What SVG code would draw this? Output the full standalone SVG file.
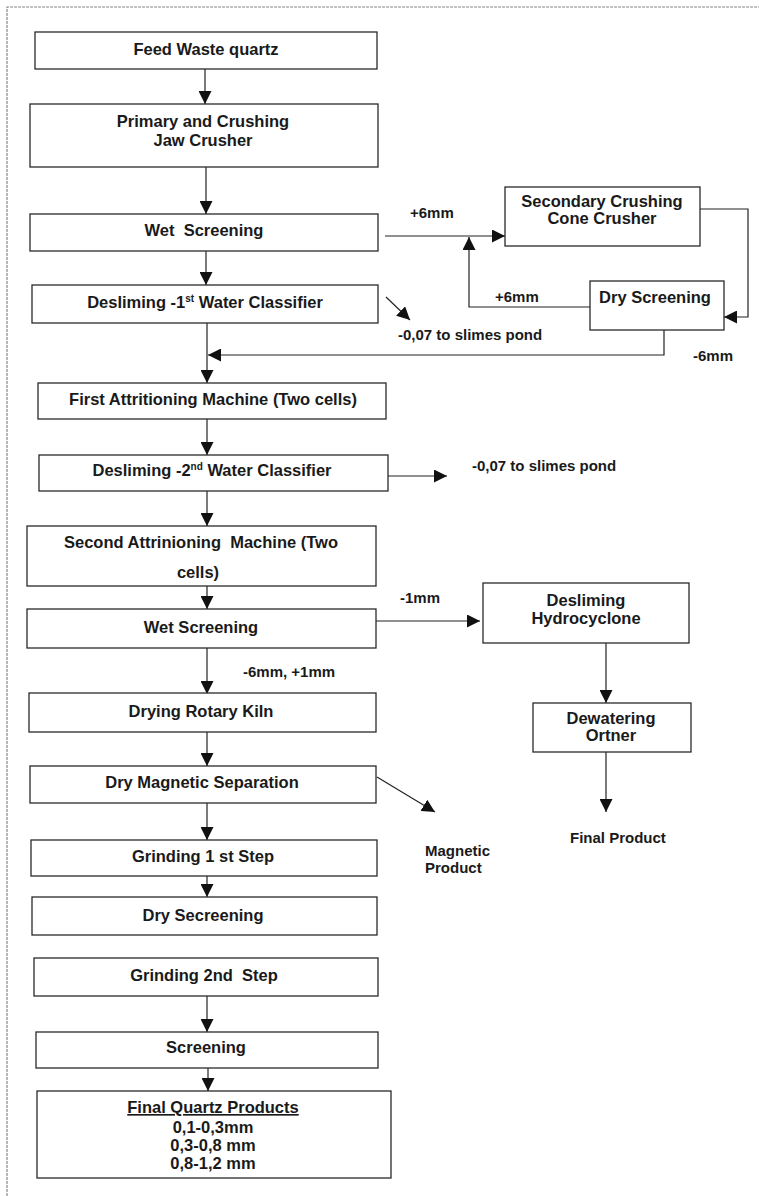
<svg xmlns="http://www.w3.org/2000/svg" width="759" height="1196" viewBox="0 0 759 1196">
<style>
  .box { fill: #ffffff; stroke: #2a2a2a; stroke-width: 1.3; }
  .t { font-family: "Liberation Sans", Arial, sans-serif; font-weight: bold; font-size: 16.5px; fill: #1a1a1a; text-anchor: middle; }
  .lbl { font-family: "Liberation Sans", Arial, sans-serif; font-weight: bold; font-size: 15px; fill: #1a1a1a; }
  .c { fill: none; stroke: #222; stroke-width: 1.2; }
  .frame { fill: none; stroke: #888; stroke-width: 1.2; stroke-dasharray: 3 1; }
</style>
<defs>
  <marker id="ah" viewBox="0 0 13 13" markerWidth="13" markerHeight="13" refX="13" refY="6.5" orient="auto" markerUnits="userSpaceOnUse">
    <path d="M0,0 L13,6.5 L0,13 z" fill="#111"/>
  </marker>
</defs>
<rect width="759" height="1196" fill="#ffffff"/>
<path class="frame" d="M7,1196 L7,7 L759,7"/>

<g id="connectors">
  <path class="c" d="M205,69 L205,104" marker-end="url(#ah)"/>
  <path class="c" d="M206,167 L206,214" marker-end="url(#ah)"/>
  <path class="c" d="M206,251 L206,285" marker-end="url(#ah)"/>
  <path class="c" d="M207,323 L207,383" marker-end="url(#ah)"/>
  <path class="c" d="M664,330 L664,355 L208,355" marker-end="url(#ah)"/>
  <path class="c" d="M207,419 L207,455" marker-end="url(#ah)"/>
  <path class="c" d="M207,491 L207,526" marker-end="url(#ah)"/>
  <path class="c" d="M207,586 L207,609" marker-end="url(#ah)"/>
  <path class="c" d="M207,648 L207,694" marker-end="url(#ah)"/>
  <path class="c" d="M207,720 L207,766" marker-end="url(#ah)"/>
  <path class="c" d="M207,803 L207,840" marker-end="url(#ah)"/>
  <path class="c" d="M207,876 L207,897" marker-end="url(#ah)"/>
  <path class="c" d="M207,996 L207,1032" marker-end="url(#ah)"/>
  <path class="c" d="M208,1068 L208,1091" marker-end="url(#ah)"/>
  <path class="c" d="M385,236 L505,236" marker-end="url(#ah)"/>
  <path class="c" d="M700,209 L748,209 L748,317 L724,317" marker-end="url(#ah)"/>
  <path class="c" d="M590,307 L469,307 L469,237" marker-end="url(#ah)"/>
  <path class="c" d="M386,297 L410,320" marker-end="url(#ah)"/>
  <path class="c" d="M387,476 L447,476" marker-end="url(#ah)"/>
  <path class="c" d="M376,621 L480,621" marker-end="url(#ah)"/>
  <path class="c" d="M606,643 L606,703" marker-end="url(#ah)"/>
  <path class="c" d="M606,752 L606,812" marker-end="url(#ah)"/>
  <path class="c" d="M377,777 L435,812" marker-end="url(#ah)"/>
</g>

<g id="n-feed"><rect class="box" x="35" y="32" width="342" height="37"/><text class="t" x="206" y="55">Feed Waste quartz</text></g>
<g id="n-primary"><rect class="box" x="30" y="104" width="348" height="63"/><text class="t" x="203" y="127">Primary and Crushing</text><text class="t" x="203" y="146">Jaw Crusher</text></g>
<g id="n-wet1"><rect class="box" x="30" y="214" width="348" height="37"/><text class="t" x="204" y="236" xml:space="preserve">Wet  Screening</text></g>
<g id="n-desl1"><rect class="box" x="32" y="285" width="346" height="38"/><text class="t" x="205" y="308">Desliming -1<tspan font-size="10" dy="-6">st</tspan><tspan dy="6"> Water Classifier</tspan></text></g>
<g id="n-attr1"><rect class="box" x="38" y="383" width="348" height="36"/><text class="t" x="213" y="405">First Attritioning Machine (Two cells)</text></g>
<g id="n-desl2"><rect class="box" x="39" y="455" width="349" height="36"/><text class="t" x="212" y="476">Desliming -2<tspan font-size="10" dy="-6">nd</tspan><tspan dy="6"> Water Classifier</tspan></text></g>
<g id="n-attr2"><rect class="box" x="27" y="526" width="349" height="60"/><text class="t" x="201" y="548" xml:space="preserve">Second Attrinioning  Machine (Two</text><text class="t" x="198" y="578" font-size="17.5">cells)</text></g>
<g id="n-wet2"><rect class="box" x="27" y="609" width="349" height="39"/><text class="t" x="201" y="633">Wet Screening</text></g>
<g id="n-kiln"><rect class="box" x="29" y="693" width="347" height="39"/><text class="t" x="201" y="717">Drying Rotary Kiln</text></g>
<g id="n-mag"><rect class="box" x="30" y="766" width="346" height="37"/><text class="t" x="202" y="788">Dry Magnetic Separation</text></g>
<g id="n-grind1"><rect class="box" x="31" y="840" width="346" height="36"/><text class="t" x="203" y="862">Grinding 1 st Step</text></g>
<g id="n-drysec"><rect class="box" x="32" y="897" width="345" height="38"/><text class="t" x="203" y="921">Dry Secreening</text></g>
<g id="n-grind2"><rect class="box" x="34" y="958" width="344" height="38"/><text class="t" x="204" y="981" xml:space="preserve">Grinding 2nd  Step</text></g>
<g id="n-screen"><rect class="box" x="36" y="1032" width="342" height="36"/><text class="t" x="206" y="1053">Screening</text></g>
<g id="n-final"><rect class="box" x="37" y="1091" width="354" height="87"/><text class="t" x="213" y="1113" text-decoration="underline">Final Quartz Products</text><text class="t" x="213" y="1133">0,1-0,3mm</text><text class="t" x="213" y="1151">0,3-0,8 mm</text><text class="t" x="213" y="1169">0,8-1,2 mm</text></g>

<g id="n-secondary"><rect class="box" x="505" y="187" width="195" height="59"/><text class="t" x="602" y="207" font-size="15">Secondary Crushing</text><text class="t" x="602" y="224" font-size="15">Cone Crusher</text></g>
<g id="n-dryscreen"><rect class="box" x="590" y="281" width="134" height="49"/><text class="t" x="655" y="303" font-size="15">Dry Screening</text></g>
<g id="n-hydro"><rect class="box" x="483" y="583" width="206" height="60"/><text class="t" x="586" y="606">Desliming</text><text class="t" x="586" y="624">Hydrocyclone</text></g>
<g id="n-dewater"><rect class="box" x="533" y="703" width="158" height="49"/><text class="t" x="611" y="724" font-size="15">Dewatering</text><text class="t" x="611" y="741" font-size="15">Ortner</text></g>

<g id="labels">
  <text class="lbl" x="410" y="218">+6mm</text>
  <text class="lbl" x="495" y="302">+6mm</text>
  <text class="lbl" x="693" y="361">-6mm</text>
  <text class="lbl" x="398" y="340">-0,07 to slimes pond</text>
  <text class="lbl" x="472" y="471">-0,07 to slimes pond</text>
  <text class="lbl" x="400" y="603">-1mm</text>
  <text class="lbl" x="243" y="677">-6mm, +1mm</text>
  <text class="lbl" x="570" y="843">Final Product</text>
  <text class="lbl" x="425" y="856">Magnetic</text>
  <text class="lbl" x="425" y="873">Product</text>
</g>
</svg>
